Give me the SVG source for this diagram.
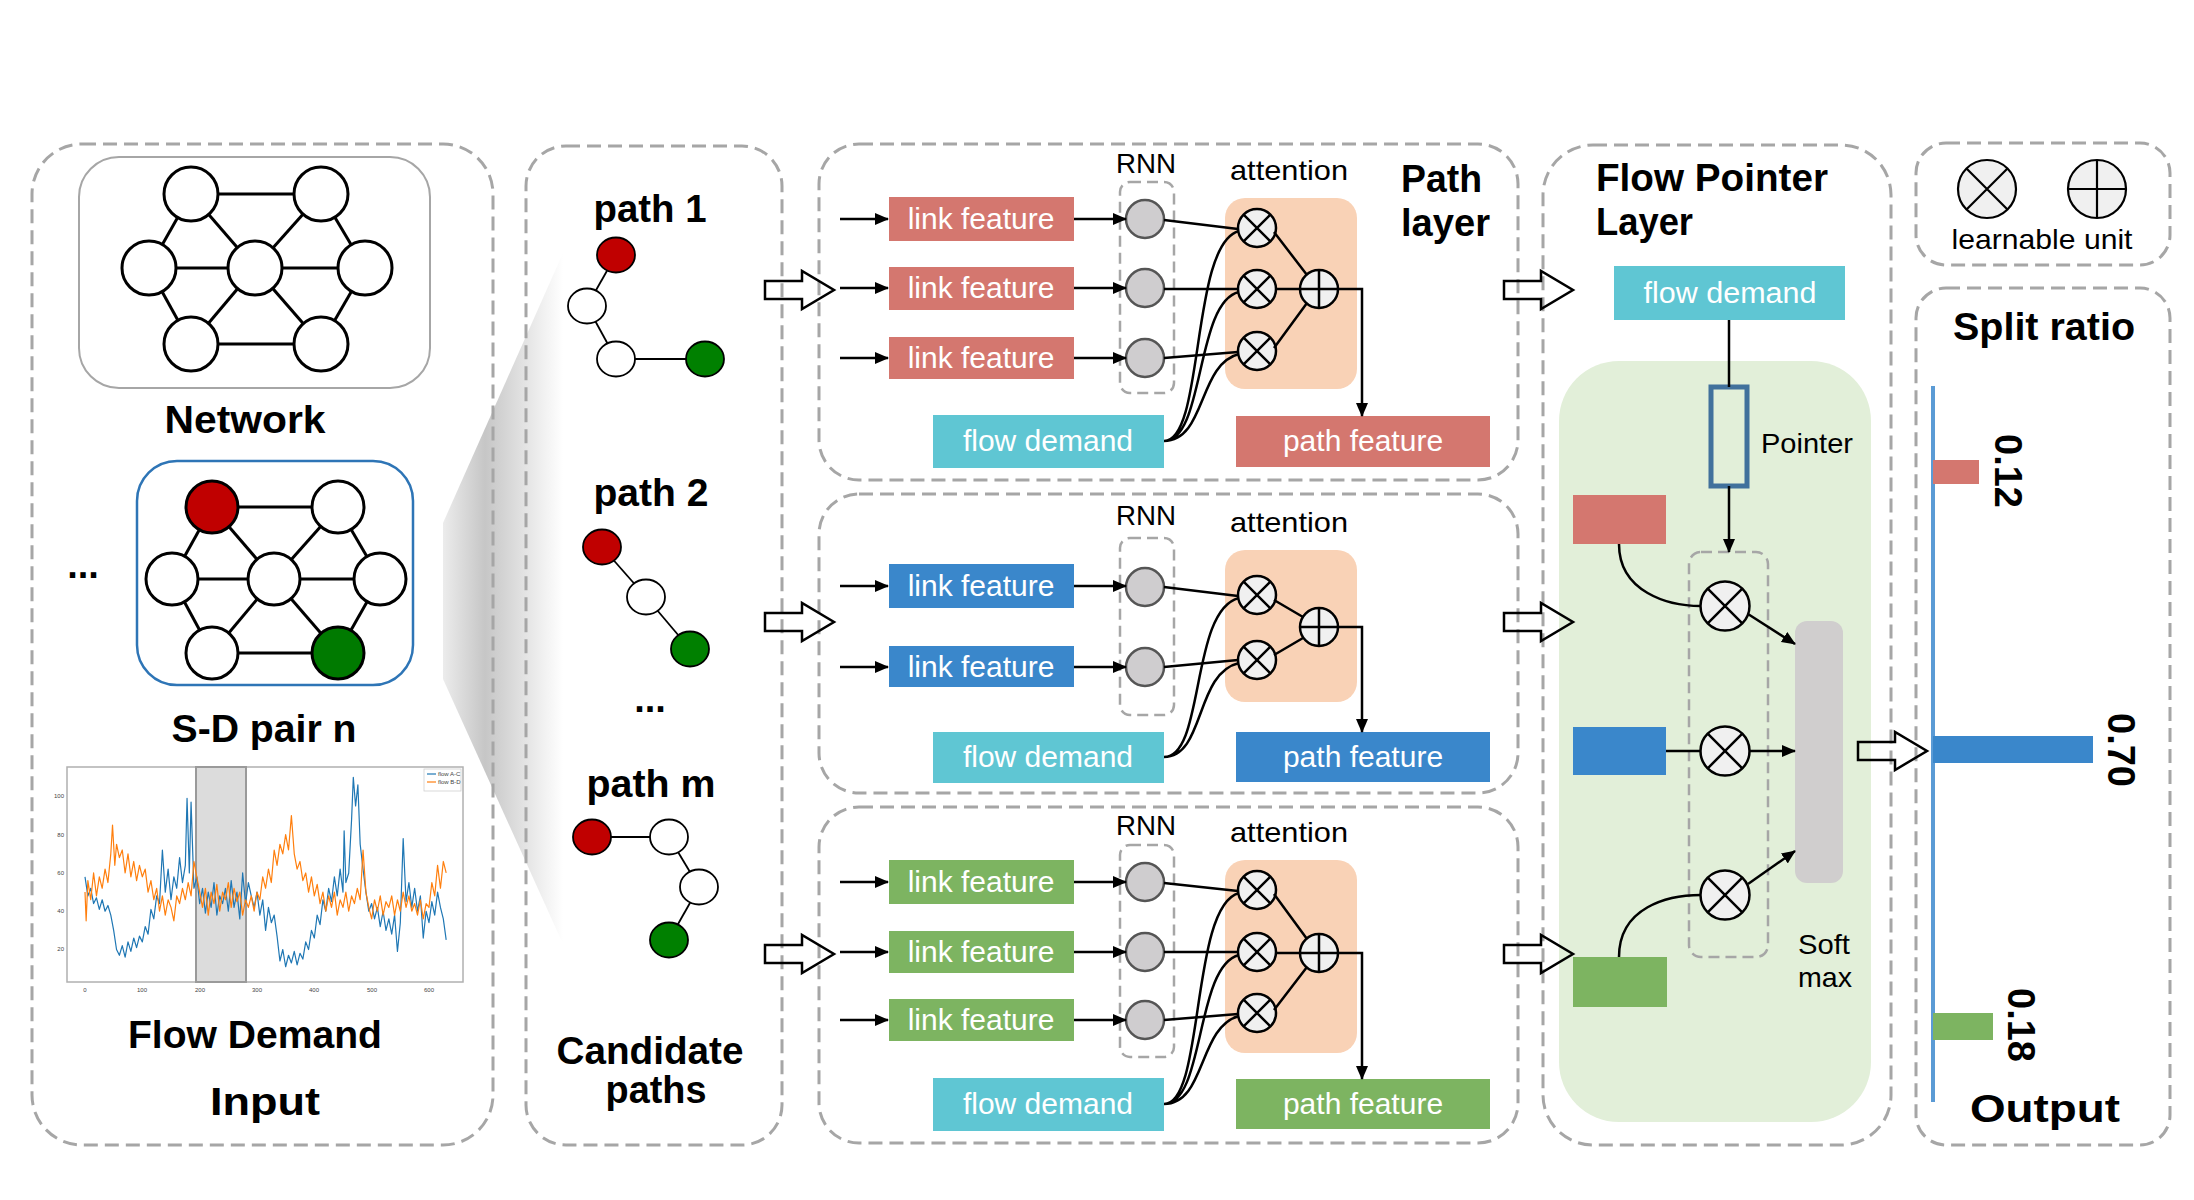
<svg xmlns="http://www.w3.org/2000/svg" width="2194" height="1200" viewBox="0 0 2194 1200">
<style>
.dash{fill:none;stroke:#a6a6a6;stroke-width:3;stroke-dasharray:14 7}
.dash2{fill:none;stroke:#a6a6a6;stroke-width:2.5;stroke-dasharray:11 6}
.t{font-family:"Liberation Sans",Arial,sans-serif;font-weight:bold;font-size:38px;fill:#000}
.lbl{font-family:"Liberation Sans",Arial,sans-serif;font-size:30px;fill:#fff;text-anchor:middle}
.sm{font-family:"Liberation Sans",Arial,sans-serif;font-size:28px;fill:#000}
.tick{font-family:"Liberation Sans",Arial,sans-serif;font-size:6px;fill:#444}
.red{fill:#d4776f}.blue{fill:#3a87cb}.green{fill:#7db461}.teal{fill:#5fc6d3}
.nn{fill:#fff;stroke:#000;stroke-width:3}
.ne{stroke:#000;stroke-width:3}
.pn{stroke:#000;stroke-width:1.8}
.pe{stroke:#000;stroke-width:1.8}
.rnn{fill:#cfcdcf;stroke:#555;stroke-width:2.5}
.mulc{fill:#f0f0f0;stroke:#000;stroke-width:2.5}
.ln{stroke:#000;stroke-width:2.5;fill:none}
.la{stroke:#000;stroke-width:2.5;fill:none;marker-end:url(#ah)}
.att{fill:#f9d2b6}
</style>
<defs>
<marker id="ah" viewBox="0 0 14 12" markerWidth="14" markerHeight="12" refX="13" refY="6" orient="auto" markerUnits="userSpaceOnUse"><path d="M0,0 L14,6 L0,12 Z" fill="#000"/></marker>
<linearGradient id="wedge" x1="443" y1="0" x2="563" y2="0" gradientUnits="userSpaceOnUse"><stop offset="0" stop-color="#ececec"/><stop offset="0.35" stop-color="#c6c6c6"/><stop offset="1" stop-color="#ffffff"/></linearGradient>
<g id="mul19"><circle r="19" class="mulc"/><path d="M-13.4,-13.4 L13.4,13.4 M13.4,-13.4 L-13.4,13.4" class="ln"/></g>
<g id="plus19"><circle r="19" class="mulc"/><path d="M-19,0 H19 M0,-19 V19" class="ln"/></g>
<g id="mul24"><circle r="24.5" class="mulc"/><path d="M-17.3,-17.3 L17.3,17.3 M17.3,-17.3 L-17.3,17.3" class="ln"/></g>
<g id="mul29"><circle r="29" fill="#f0f0f0" stroke="#000" stroke-width="2.2"/><path d="M-20.5,-20.5 L20.5,20.5 M20.5,-20.5 L-20.5,20.5" stroke="#000" stroke-width="2.2"/></g>
<g id="plus29"><circle r="29" fill="#f0f0f0" stroke="#000" stroke-width="2.2"/><path d="M-29,0 H29 M0,-29 V29" stroke="#000" stroke-width="2.2"/></g>
<path id="barrow" d="M0,-9 H37 V-19 L69,0 L37,19 V9 H0 Z" fill="none" stroke="#000" stroke-width="2.5"/>
</defs>
<rect width="2194" height="1200" fill="#fff"/>

<!-- shadow wedge -->
<polygon points="443,523 563,253 563,944 443,679" fill="url(#wedge)"/>

<!-- panel frames -->
<g id="panels">
<rect class="dash" x="32" y="144" width="461" height="1001" rx="50"/>
<rect class="dash" x="526" y="146" width="256" height="999" rx="40"/>
<rect class="dash" x="819" y="144" width="699" height="336" rx="40"/>
<rect class="dash" x="819" y="494" width="699" height="299" rx="40"/>
<rect class="dash" x="819" y="807" width="699" height="336" rx="40"/>
<rect class="dash" x="1543" y="145" width="348" height="1000" rx="50"/>
<rect class="dash" x="1916" y="143" width="254" height="122" rx="30"/>
<rect class="dash" x="1916" y="288" width="254" height="857" rx="30"/>
</g>

<!-- Input panel -->
<g id="network">
<rect x="79" y="157" width="351" height="231" rx="40" fill="#fff" stroke="#a6a6a6" stroke-width="2"/>
<g class="ne">
<line x1="191" y1="194" x2="321" y2="194"/><line x1="191" y1="194" x2="149" y2="268"/><line x1="191" y1="194" x2="255" y2="268"/>
<line x1="321" y1="194" x2="255" y2="268"/><line x1="321" y1="194" x2="365" y2="268"/><line x1="149" y1="268" x2="365" y2="268"/>
<line x1="149" y1="268" x2="191" y2="344"/><line x1="255" y1="268" x2="191" y2="344"/><line x1="255" y1="268" x2="321" y2="344"/>
<line x1="365" y1="268" x2="321" y2="344"/><line x1="191" y1="344" x2="321" y2="344"/>
</g>
<circle class="nn" cx="191" cy="194" r="27"/><circle class="nn" cx="321" cy="194" r="27"/>
<circle class="nn" cx="149" cy="268" r="27"/><circle class="nn" cx="255" cy="268" r="27"/><circle class="nn" cx="365" cy="268" r="27"/>
<circle class="nn" cx="191" cy="344" r="27"/><circle class="nn" cx="321" cy="344" r="27"/>
<text class="t" x="245" y="433" text-anchor="middle" textLength="161" lengthAdjust="spacingAndGlyphs">Network</text>
</g>
<g id="sdpair">
<rect x="137" y="461" width="276" height="224" rx="40" fill="#fff" stroke="#2e75b6" stroke-width="2.5"/>
<g class="ne">
<line x1="212" y1="507" x2="338" y2="507"/><line x1="212" y1="507" x2="172" y2="579"/><line x1="212" y1="507" x2="274" y2="579"/>
<line x1="338" y1="507" x2="274" y2="579"/><line x1="338" y1="507" x2="380" y2="579"/><line x1="172" y1="579" x2="380" y2="579"/>
<line x1="172" y1="579" x2="212" y2="653"/><line x1="274" y1="579" x2="212" y2="653"/><line x1="274" y1="579" x2="338" y2="653"/>
<line x1="380" y1="579" x2="338" y2="653"/><line x1="212" y1="653" x2="338" y2="653"/>
</g>
<circle class="nn" cx="212" cy="507" r="26" fill="#c00000" style="fill:#c00000"/><circle class="nn" cx="338" cy="507" r="26"/>
<circle class="nn" cx="172" cy="579" r="26"/><circle class="nn" cx="274" cy="579" r="26"/><circle class="nn" cx="380" cy="579" r="26"/>
<circle class="nn" cx="212" cy="653" r="26"/><circle class="nn" cx="338" cy="653" r="26" style="fill:#007a00"/>
<text class="t" x="264" y="742" text-anchor="middle" textLength="185" lengthAdjust="spacingAndGlyphs">S-D pair n</text>
<text class="t" x="83" y="578" text-anchor="middle">...</text>
</g>
<g id="flowchart">
<rect x="67" y="767" width="396" height="215" fill="#fff" stroke="#b0b0b0" stroke-width="1.5"/>
<rect x="196" y="767" width="50" height="215" fill="#dcdcdc" stroke="#9a9a9a" stroke-width="2"/>
<g transform="translate(85,987.8) scale(0.5733,-1.914)" fill="none" stroke-linejoin="round">
<polyline vector-effect="non-scaling-stroke" stroke="#1f77b4" stroke-width="1.2" points="0,58 5,48 10,52 15,44 20,47 25,41 30,46 35,40 40,43 45,38 50,30 55,20 60,17 65,22 70,16 75,24 80,19 85,26 90,21 95,27 100,24 105,32 110,28 115,41 120,36 125,48 130,44 135,72 140,50 145,62 150,46 155,58 160,52 165,68 170,55 175,64 178,99 182,60 185,97 190,52 195,58 200,44 205,52 210,39 215,50 220,42 225,55 230,38 235,48 240,44 245,52 250,40 255,56 260,42 265,50 270,36 275,60 280,44 285,55 290,48 295,42 300,50 305,38 310,46 315,30 320,42 325,34 330,38 335,27 340,14 345,20 350,11 355,17 360,13 365,19 370,12 375,18 380,15 385,24 390,20 395,30 400,26 405,38 410,33 415,46 420,40 425,52 430,45 435,58 440,48 445,62 450,50 452,82 455,55 460,60 465,88 468,110 472,95 476,106 480,75 485,62 490,50 495,40 500,44 505,36 510,42 515,32 520,40 525,30 530,36 535,28 540,38 545,19 550,34 555,78 560,45 565,55 570,42 575,52 580,40 585,48 590,26 595,40 600,34 605,45 610,38 615,50 620,42 625,36 630,25"/>
<polyline vector-effect="non-scaling-stroke" stroke="#ff7f0e" stroke-width="1.2" points="0,50 2,35 5,56 10,46 15,60 20,48 25,58 30,52 35,62 40,55 45,70 48,85 52,64 55,75 60,68 65,72 70,60 75,70 80,58 85,66 90,56 95,64 100,58 105,62 110,50 115,56 120,46 125,52 130,40 135,48 140,38 145,46 150,42 155,35 160,48 165,44 170,52 175,46 180,55 185,48 190,66 195,58 200,50 205,42 210,52 215,38 220,50 225,44 230,54 235,40 240,50 245,46 250,55 255,42 260,52 265,45 270,50 275,38 280,46 285,42 290,48 295,40 300,50 305,46 310,58 315,52 320,62 325,55 330,72 335,64 340,75 345,70 350,80 355,72 360,90 365,70 370,62 375,66 380,56 385,60 390,50 395,58 400,48 405,54 410,44 415,50 420,40 425,48 430,42 435,50 440,38 445,46 450,42 455,50 460,40 465,48 470,44 475,52 480,46 485,72 490,50 495,42 500,36 505,46 510,40 515,48 520,38 525,45 530,42 535,48 540,38 545,46 550,40 555,50 560,42 565,48 570,40 575,44 580,38 585,46 590,36 595,44 600,42 605,55 610,48 615,64 620,52 625,66 630,60"/>
</g>
<rect x="424" y="769" width="37" height="22" fill="#fff" stroke="#d0d0d0" stroke-width="0.8"/>
<line x1="427" y1="774" x2="436" y2="774" stroke="#1f77b4" stroke-width="1.2"/>
<line x1="427" y1="782" x2="436" y2="782" stroke="#ff7f0e" stroke-width="1.2"/>
<text class="tick" x="438" y="776" font-size="5">flow A-C</text>
<text class="tick" x="438" y="784" font-size="5">flow B-D</text>
<g class="tick" text-anchor="end">
<text x="64" y="798">100</text><text x="64" y="837">80</text><text x="64" y="875">60</text><text x="64" y="913">40</text><text x="64" y="951">20</text>
</g>
<g class="tick" text-anchor="middle">
<text x="85" y="992">0</text><text x="142" y="992">100</text><text x="200" y="992">200</text><text x="257" y="992">300</text><text x="314" y="992">400</text><text x="372" y="992">500</text><text x="429" y="992">600</text>
</g>
<text class="t" x="255" y="1048" text-anchor="middle" textLength="254" lengthAdjust="spacingAndGlyphs">Flow Demand</text>
<text class="t" x="265" y="1115" text-anchor="middle" textLength="110" lengthAdjust="spacingAndGlyphs">Input</text>
</g>

<!-- Candidate paths -->
<g id="candidates">
<text class="t" x="650" y="222" text-anchor="middle" textLength="113" lengthAdjust="spacingAndGlyphs">path 1</text>
<g class="pe"><line x1="616" y1="255" x2="587" y2="306"/><line x1="587" y1="306" x2="616" y2="359"/><line x1="616" y1="359" x2="705" y2="359"/></g>
<ellipse class="pn" cx="616" cy="255" rx="19" ry="17.5" fill="#c00000"/>
<ellipse class="pn" cx="587" cy="306" rx="19" ry="17.5" fill="#fff"/>
<ellipse class="pn" cx="616" cy="359" rx="19" ry="17.5" fill="#fff"/>
<ellipse class="pn" cx="705" cy="359" rx="19" ry="17.5" fill="#008000"/>
<text class="t" x="651" y="506" text-anchor="middle" textLength="115" lengthAdjust="spacingAndGlyphs">path 2</text>
<g class="pe"><line x1="602" y1="547" x2="646" y2="597"/><line x1="646" y1="597" x2="690" y2="649"/></g>
<ellipse class="pn" cx="602" cy="547" rx="19" ry="17.5" fill="#c00000"/>
<ellipse class="pn" cx="646" cy="597" rx="19" ry="17.5" fill="#fff"/>
<ellipse class="pn" cx="690" cy="649" rx="19" ry="17.5" fill="#008000"/>
<text class="t" x="650" y="712" text-anchor="middle">...</text>
<text class="t" x="651" y="797" text-anchor="middle" textLength="129" lengthAdjust="spacingAndGlyphs">path m</text>
<g class="pe"><line x1="592" y1="837" x2="669" y2="837"/><line x1="669" y1="837" x2="699" y2="887"/><line x1="699" y1="887" x2="669" y2="940"/></g>
<ellipse class="pn" cx="592" cy="837" rx="19" ry="17.5" fill="#c00000"/>
<ellipse class="pn" cx="669" cy="837" rx="19" ry="17.5" fill="#fff"/>
<ellipse class="pn" cx="699" cy="887" rx="19" ry="17.5" fill="#fff"/>
<ellipse class="pn" cx="669" cy="940" rx="19" ry="17.5" fill="#008000"/>
<text class="t" x="650" y="1064" text-anchor="middle" textLength="187" lengthAdjust="spacingAndGlyphs">Candidate</text>
<text class="t" x="656" y="1103" text-anchor="middle" textLength="101" lengthAdjust="spacingAndGlyphs">paths</text>
</g>

<!-- Path layer 1 -->
<g id="pathlayer1">
<text class="sm" x="1146" y="173" text-anchor="middle" textLength="60" lengthAdjust="spacingAndGlyphs">RNN</text>
<text class="sm" x="1289" y="180" text-anchor="middle" font-size="29" textLength="118" lengthAdjust="spacingAndGlyphs">attention</text>
<text class="t" x="1401" y="192" textLength="81" lengthAdjust="spacingAndGlyphs">Path</text>
<text class="t" x="1401" y="236" textLength="89" lengthAdjust="spacingAndGlyphs">layer</text>
<rect class="dash2" x="1120" y="182" width="54" height="211" rx="10"/>
<rect class="att" x="1225" y="198" width="132" height="191" rx="20"/>
<rect class="red" x="889" y="197" width="185" height="44"/><text class="lbl" x="981" y="229">link feature</text>
<rect class="red" x="889" y="267" width="185" height="43"/><text class="lbl" x="981" y="298">link feature</text>
<rect class="red" x="889" y="337" width="185" height="42"/><text class="lbl" x="981" y="368">link feature</text>
<rect class="teal" x="933" y="415" width="231" height="53"/><text class="lbl" x="1048" y="451">flow demand</text>
<rect class="red" x="1236" y="416" width="254" height="51"/><text class="lbl" x="1363" y="451">path feature</text>
<circle class="rnn" cx="1145" cy="219" r="19"/><circle class="rnn" cx="1145" cy="288" r="19"/><circle class="rnn" cx="1145" cy="358" r="19"/>
</g>
<!-- Path layer 2 -->
<g id="pathlayer2">
<text class="sm" x="1146" y="525" text-anchor="middle" textLength="60" lengthAdjust="spacingAndGlyphs">RNN</text>
<text class="sm" x="1289" y="532" text-anchor="middle" font-size="29" textLength="118" lengthAdjust="spacingAndGlyphs">attention</text>
<rect class="dash2" x="1120" y="538" width="54" height="177" rx="10"/>
<rect class="att" x="1225" y="550" width="132" height="152" rx="20"/>
<rect class="blue" x="889" y="564" width="185" height="44"/><text class="lbl" x="981" y="596">link feature</text>
<rect class="blue" x="889" y="646" width="185" height="41"/><text class="lbl" x="981" y="677">link feature</text>
<rect class="teal" x="933" y="732" width="231" height="51"/><text class="lbl" x="1048" y="767">flow demand</text>
<rect class="blue" x="1236" y="732" width="254" height="50"/><text class="lbl" x="1363" y="767">path feature</text>
<circle class="rnn" cx="1145" cy="587" r="19"/><circle class="rnn" cx="1145" cy="667" r="19"/>
</g>
<!-- Path layer 3 -->
<g id="pathlayer3">
<text class="sm" x="1146" y="835" text-anchor="middle" textLength="60" lengthAdjust="spacingAndGlyphs">RNN</text>
<text class="sm" x="1289" y="842" text-anchor="middle" font-size="29" textLength="118" lengthAdjust="spacingAndGlyphs">attention</text>
<rect class="dash2" x="1120" y="845" width="54" height="212" rx="10"/>
<rect class="att" x="1225" y="860" width="132" height="193" rx="20"/>
<rect class="green" x="889" y="860" width="185" height="44"/><text class="lbl" x="981" y="892">link feature</text>
<rect class="green" x="889" y="931" width="185" height="42"/><text class="lbl" x="981" y="962">link feature</text>
<rect class="green" x="889" y="999" width="185" height="42"/><text class="lbl" x="981" y="1030">link feature</text>
<rect class="teal" x="933" y="1078" width="231" height="53"/><text class="lbl" x="1048" y="1114">flow demand</text>
<rect class="green" x="1236" y="1079" width="254" height="50"/><text class="lbl" x="1363" y="1114">path feature</text>
<circle class="rnn" cx="1145" cy="882" r="19"/><circle class="rnn" cx="1145" cy="952" r="19"/><circle class="rnn" cx="1145" cy="1020" r="19"/>
</g>

<!-- Flow pointer layer -->
<g id="flowpointer">
<text class="t" x="1596" y="191" textLength="232" lengthAdjust="spacingAndGlyphs">Flow Pointer</text>
<text class="t" x="1596" y="235" textLength="97" lengthAdjust="spacingAndGlyphs">Layer</text>
<rect class="teal" x="1614" y="266" width="231" height="54"/><text class="lbl" x="1730" y="303" textLength="173" lengthAdjust="spacingAndGlyphs">flow demand</text>
<rect x="1559" y="361" width="312" height="761" rx="60" fill="#e2efd9"/>
<rect x="1711" y="387" width="36" height="99" fill="none" stroke="#41719c" stroke-width="5"/>
<text class="sm" x="1761" y="453" textLength="92" lengthAdjust="spacingAndGlyphs">Pointer</text>
<rect class="dash2" x="1689" y="552" width="79" height="405" rx="12"/>
<rect class="red" x="1573" y="495" width="93" height="49"/>
<rect class="blue" x="1573" y="727" width="93" height="48"/>
<rect class="green" x="1573" y="957" width="94" height="50"/>
<rect x="1795" y="621" width="48" height="262" rx="12" fill="#d0cece"/>
<text class="sm" x="1798" y="954" textLength="52" lengthAdjust="spacingAndGlyphs">Soft</text>
<text class="sm" x="1798" y="987" textLength="54" lengthAdjust="spacingAndGlyphs">max</text>
</g>

<!-- Legend -->
<g id="legend">
<use href="#mul29" x="1987" y="189"/>
<use href="#plus29" x="2097" y="189"/>
<text class="sm" x="2042" y="249" text-anchor="middle" font-size="30" textLength="181" lengthAdjust="spacingAndGlyphs">learnable unit</text>
</g>

<!-- Output -->
<g id="output">
<text class="t" x="2044" y="340" text-anchor="middle" textLength="182" lengthAdjust="spacingAndGlyphs">Split ratio</text>
<line x1="1933" y1="386" x2="1933" y2="1102" stroke="#5b9bd5" stroke-width="4"/>
<rect class="red" x="1933" y="460" width="46" height="24"/>
<rect class="blue" x="1933" y="736" width="160" height="27"/>
<rect class="green" x="1933" y="1013" width="60" height="27"/>
<text class="t" transform="translate(1995,471) rotate(90)" text-anchor="middle">0.12</text>
<text class="t" transform="translate(2108,750) rotate(90)" text-anchor="middle">0.70</text>
<text class="t" transform="translate(2008,1025) rotate(90)" text-anchor="middle">0.18</text>
<text class="t" x="2045" y="1122" text-anchor="middle" textLength="150" lengthAdjust="spacingAndGlyphs">Output</text>
</g>

<!-- Learnable units (nodes) -->
<g id="units">
<use href="#mul19" x="1257" y="228"/><use href="#mul19" x="1257" y="289"/><use href="#mul19" x="1257" y="351"/><use href="#plus19" x="1319" y="289"/>
<use href="#mul19" x="1257" y="595"/><use href="#mul19" x="1257" y="660"/><use href="#plus19" x="1319" y="627"/>
<use href="#mul19" x="1257" y="890"/><use href="#mul19" x="1257" y="952"/><use href="#mul19" x="1257" y="1013"/><use href="#plus19" x="1319" y="953"/>
<use href="#mul24" x="1725" y="606"/><use href="#mul24" x="1725" y="751"/><use href="#mul24" x="1725" y="895"/>
</g>

<!-- Connectors -->
<g id="connectors">
<use href="#barrow" x="765" y="290"/><use href="#barrow" x="765" y="622"/><use href="#barrow" x="765" y="954"/>
<use href="#barrow" x="1504" y="290"/><use href="#barrow" x="1504" y="622"/><use href="#barrow" x="1504" y="954"/>
<use href="#barrow" x="1858" y="751"/>
<!-- box 1 -->
<path class="la" d="M840,219 H888"/><path class="la" d="M840,288 H888"/><path class="la" d="M840,358 H888"/>
<path class="la" d="M1074,219 H1126"/><path class="la" d="M1074,288 H1126"/><path class="la" d="M1074,358 H1126"/>
<path class="ln" d="M1164,220 L1238,229 M1164,289 H1238 M1164,358 L1238,352"/>
<path class="ln" d="M1164,441 C1205,441 1190,244 1239,231 M1164,441 C1205,441 1195,302 1239,292 M1164,441 C1206,441 1198,364 1239,354"/>
<path class="ln" d="M1274,232 L1307,275 M1276,289 H1300 M1274,348 L1307,303"/>
<path class="la" d="M1338,289 H1362 V416"/>
<!-- box 2 -->
<path class="la" d="M840,586 H888"/><path class="la" d="M840,667 H888"/>
<path class="la" d="M1074,586 H1126"/><path class="la" d="M1074,667 H1126"/>
<path class="ln" d="M1164,587 L1238,596 M1164,667 L1238,660"/>
<path class="ln" d="M1164,757 C1205,757 1190,610 1239,598 M1164,757 C1205,757 1195,673 1239,663"/>
<path class="ln" d="M1274,600 L1303,617 M1274,655 L1303,638"/>
<path class="la" d="M1338,627 H1362 V732"/>
<!-- box 3 -->
<path class="la" d="M840,882 H888"/><path class="la" d="M840,952 H888"/><path class="la" d="M840,1020 H888"/>
<path class="la" d="M1074,882 H1126"/><path class="la" d="M1074,952 H1126"/><path class="la" d="M1074,1020 H1126"/>
<path class="ln" d="M1164,883 L1238,891 M1164,952 H1238 M1164,1020 L1238,1014"/>
<path class="ln" d="M1164,1104 C1205,1104 1190,906 1239,893 M1164,1104 C1205,1104 1195,966 1239,955 M1164,1104 C1206,1104 1198,1027 1239,1016"/>
<path class="ln" d="M1274,894 L1307,939 M1276,953 H1300 M1274,1010 L1307,967"/>
<path class="la" d="M1338,953 H1362 V1079"/>
<!-- pointer layer -->
<path class="ln" d="M1729,320 V387"/>
<path class="la" d="M1729,486 V552"/>
<path class="ln" d="M1619,544 C1619,592 1668,606 1701,606"/>
<path class="ln" d="M1666,751 H1701"/>
<path class="ln" d="M1619,957 C1619,907 1668,895 1701,895"/>
<path class="la" d="M1748,614 L1795,644"/>
<path class="la" d="M1750,751 H1795"/>
<path class="la" d="M1748,884 L1795,851"/>
</g>
</svg>
